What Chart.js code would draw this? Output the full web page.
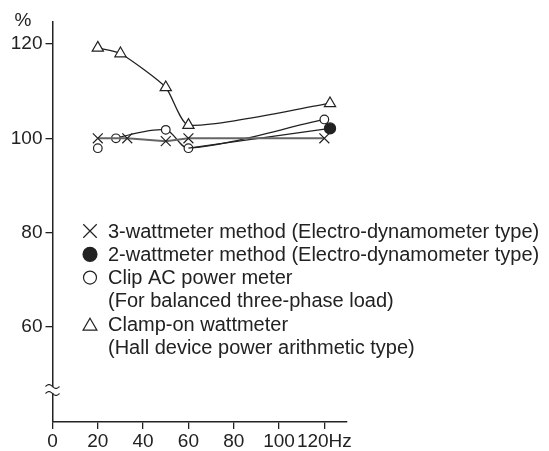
<!DOCTYPE html>
<html>
<head>
<meta charset="utf-8">
<title>Power meter error vs frequency</title>
<script src="https://cdn.jsdelivr.net/npm/chart.js@4.4.0/dist/chart.umd.min.js"></script>
<style>
  html, body { margin: 0; padding: 0; background: #fff; }
</style>
</head>
<body>
<canvas id="freqChart" width="549" height="451"></canvas>
<script>
// Readings in % of true power against supply frequency (Hz)
const threeWattHz = [20, 33, 50, 60, 120];
const threeWattPct = [100, 100, 99.4, 100, 100];

const twoWattHz = [60, 122.5];
const twoWattPct = [97.9, 102.1];

const clipHz = [20, 28, 50, 60, 120];
const clipPct = [97.9, 100, 101.8, 97.9, 104.0];

const clampHz = [20, 30, 50, 60, 122.5];
const clampPct = [119.2, 118.0, 110.8, 102.8, 107.4];

const xTicks = [0, 20, 40, 60, 80, 100, 120];
const yTicks = [60, 80, 100, 120];

const legendLines = [
  '3-wattmeter method (Electro-dynamometer type)',
  '2-wattmeter method (Electro-dynamometer type)',
  'Clip AC power meter',
  '(For balanced three-phase load)',
  'Clamp-on wattmeter',
  '(Hall device power arithmetic type)'
];

const INK = '#222';
const FONT = "'Liberation Sans', Arial, sans-serif";

function toPoints(xs, ys) {
  return xs.map(function (x, i) { return { x: x, y: ys[i] }; });
}

/*
 * Extra drawing: the % unit above the y axis, the axis break mark
 * and the key with its marker symbols inside the plot area.
 */
const decorations = {
  id: 'decorations',
  afterDraw: function (chart) {
    const ctx = chart.ctx;
    const area = chart.chartArea;
    ctx.save();

    // unit label
    ctx.fillStyle = INK;
    ctx.font = '19px ' + FONT;
    ctx.textAlign = 'center';
    ctx.textBaseline = 'middle';
    ctx.fillText('%', 23, 21);

    // axis break near the bottom of the y axis
    const bx = area.left;
    const by = 390;
    ctx.fillStyle = '#fff';
    ctx.fillRect(bx - 3, by - 3, 6, 6);
    ctx.strokeStyle = INK;
    ctx.lineWidth = 1.2;
    [by - 3.5, by + 3.5].forEach(function (yy) {
      ctx.beginPath();
      for (let i = 0; i <= 14; i++) {
        const px = bx - 7 + i;
        const py = yy - 2 * Math.sin((i / 14) * Math.PI * 2);
        if (i === 0) ctx.moveTo(px, py); else ctx.lineTo(px, py);
      }
      ctx.stroke();
    });

    // key
    const markers = [
      { pointStyle: 'crossRot', radius: 9.5, fill: '#fff' },
      { pointStyle: 'circle', radius: 7, fill: INK },
      { pointStyle: 'circle', radius: 6.5, fill: '#fff' },
      null,
      { pointStyle: 'triangle', radius: 8, fill: '#fff' },
      null
    ];
    const rowTop = 231;
    const rowStep = 23.3;
    ctx.font = '20px ' + FONT;
    ctx.textAlign = 'left';
    legendLines.forEach(function (line, i) {
      const y = rowTop + i * rowStep;
      const m = markers[i];
      if (m) {
        ctx.fillStyle = m.fill;
        ctx.strokeStyle = INK;
        Chart.helpers.drawPoint(ctx, {
          pointStyle: m.pointStyle,
          radius: m.radius,
          borderWidth: 1.2,
          rotation: 0
        }, 90, y + (m.pointStyle === 'triangle' ? 2 : 0));
      }
      ctx.fillStyle = INK;
      ctx.fillText(line, 108, y + 1);
    });
    ctx.restore();
  }
};

new Chart(document.getElementById('freqChart'), {
  type: 'line',
  data: {
    datasets: [
      {
        label: '3-wattmeter method',
        data: toPoints(threeWattHz, threeWattPct),
        borderColor: '#666',
        borderWidth: 2,
        tension: 0,
        pointStyle: 'crossRot',
        pointRadius: 7,
        pointBorderColor: INK,
        pointBorderWidth: 1.2,
        pointBackgroundColor: 'rgba(0,0,0,0)'
      },
      {
        label: '2-wattmeter method',
        data: toPoints(twoWattHz, twoWattPct),
        borderColor: INK,
        borderWidth: 1.3,
        tension: 0,
        pointStyle: 'circle',
        pointRadius: [0, 5.5],
        pointBorderColor: INK,
        pointBackgroundColor: INK
      },
      {
        label: 'Clip AC power meter',
        data: toPoints(clipHz, clipPct),
        borderColor: INK,
        borderWidth: 1.3,
        tension: 0.3,
        pointStyle: 'circle',
        pointRadius: 4.3,
        pointBorderColor: INK,
        pointBorderWidth: 1.2,
        pointBackgroundColor: '#fff',
        // the 20 Hz reading stands alone
        segment: {
          borderColor: function (ctx) { return ctx.p0DataIndex === 0 ? 'rgba(0,0,0,0)' : undefined; }
        }
      },
      {
        label: 'Clamp-on wattmeter',
        data: toPoints(clampHz, clampPct),
        borderColor: INK,
        borderWidth: 1.3,
        tension: 0.2,
        pointStyle: 'triangle',
        pointRadius: 6.5,
        pointBorderColor: INK,
        pointBorderWidth: 1.2,
        pointBackgroundColor: '#fff'
      }
    ]
  },
  options: {
    responsive: false,
    animation: false,
    devicePixelRatio: 1,
    layout: { padding: { top: 22, right: 202, left: 0, bottom: 0 } },
    plugins: {
      legend: { display: false },
      tooltip: { enabled: false }
    },
    scales: {
      x: {
        type: 'linear',
        min: 0,
        max: 130,
        afterBuildTicks: function (scale) {
          scale.ticks = xTicks.map(function (v) { return { value: v }; });
        },
        afterFit: function (scale) { scale.height = 29; },
        border: { color: INK, width: 1.5 },
        grid: { drawOnChartArea: false, tickLength: 7, color: INK, lineWidth: 1.3 },
        ticks: {
          color: INK,
          padding: 1,
          maxRotation: 0,
          autoSkip: false,
          font: { family: FONT, size: 19 },
          callback: function (v) { return v === 120 ? '120Hz' : v; }
        }
      },
      y: {
        type: 'linear',
        min: 39.75,
        max: 124.7,
        afterBuildTicks: function (scale) {
          scale.ticks = yTicks.map(function (v) { return { value: v }; });
        },
        afterFit: function (scale) { scale.width = 52.5; },
        border: { color: INK, width: 1.5 },
        grid: { drawOnChartArea: false, tickLength: 7, color: INK, lineWidth: 1.3 },
        ticks: {
          color: INK,
          padding: 3,
          autoSkip: false,
          font: { family: FONT, size: 19 }
        }
      }
    }
  },
  plugins: [decorations]
});
</script>
</body>
</html>
